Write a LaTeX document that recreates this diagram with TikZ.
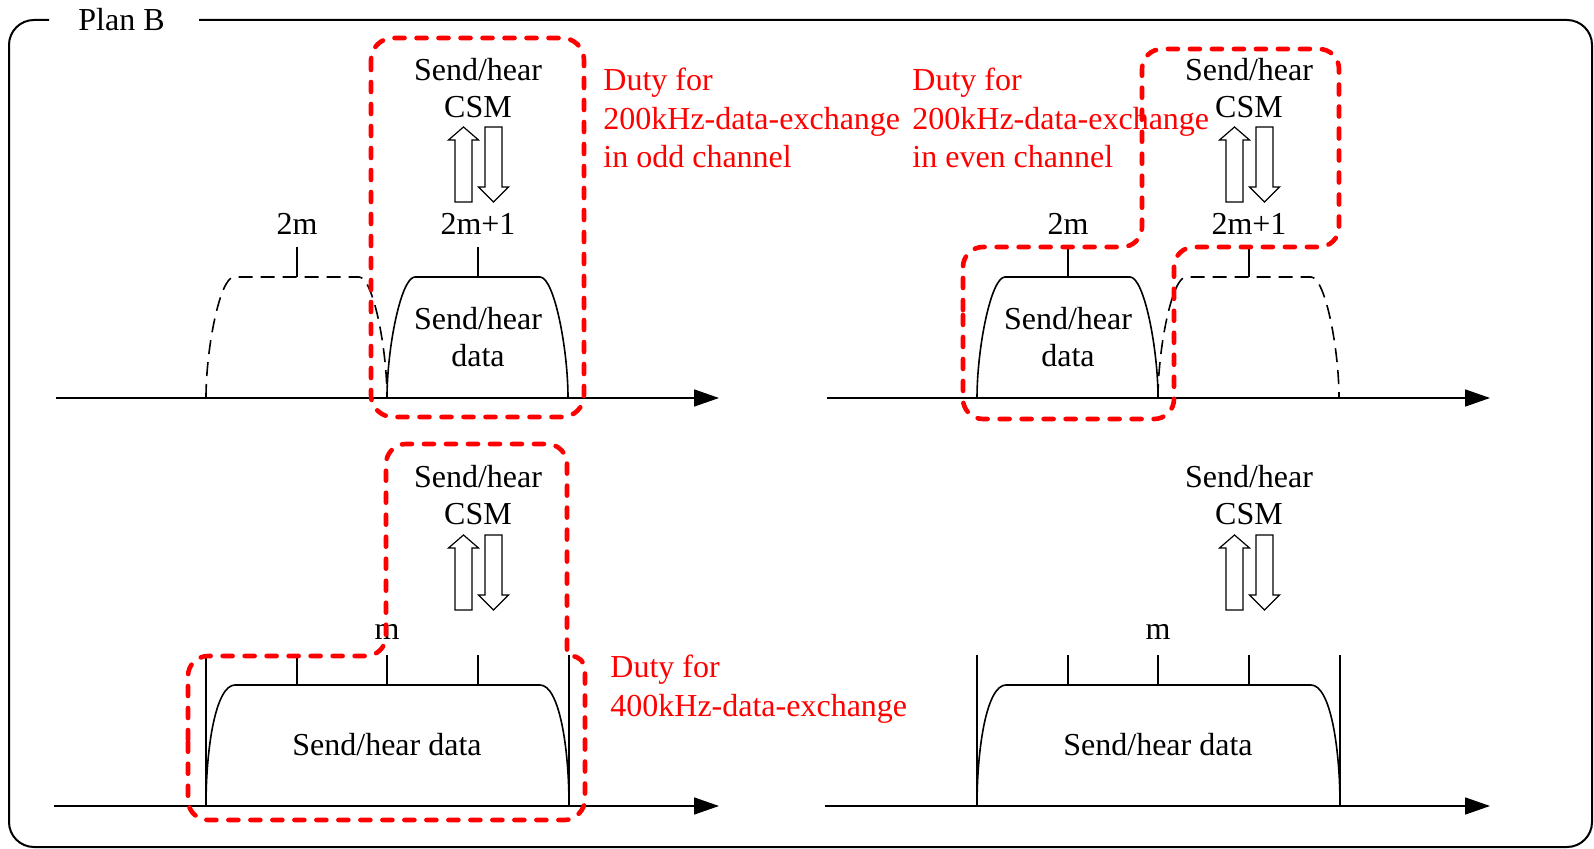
\documentclass[tikz,border=0pt]{standalone}
\usepackage{fontspec}
\setmainfont{Liberation Serif}
\usetikzlibrary{arrows.meta}
\begin{document}
\begin{tikzpicture}[x=0.5pt,y=-0.5pt,
  lbl/.style={font=\fontsize{16}{18.5}\selectfont, inner sep=0pt, align=center},
  redlbl/.style={font=\fontsize{16}{19.2}\selectfont, text=red, inner sep=0pt, align=left, anchor=west},
  ln/.style={line width=0.8pt},
  frameline/.style={line width=1pt},
  dsh/.style={line width=0.8pt, dash pattern=on 7pt off 4pt},
  duty/.style={draw=red, line width=2.3pt, dash pattern=on 5pt off 6pt, line cap=round, line join=round},
  axisline/.style={line width=0.8pt, -{Triangle[length=12.5pt,width=8.5pt]}},
  blk/.style={line width=0.6pt, fill=white},
  csmarrows/.pic={
    \draw[blk] (455,202) -- (455,140) -- (448.5,140) -- (463.5,127) -- (478.5,140) -- (472,140) -- (472,202) -- cycle;
    \draw[blk] (485,127) -- (485,187) -- (478.5,187) -- (493.5,202) -- (508.5,187) -- (502,187) -- (502,127) -- cycle;
  }
]
\useasboundingbox (0,0) rectangle (1594,849);
\fill[white] (0,0) rectangle (1594,849);

% frame
\draw[frameline, rounded corners=12.5pt] (199,20) -- (1592,20) -- (1592,847) -- (9,847) -- (9,20) -- (49,20);
\node[lbl] (title) at (121.5,20) {Plan B};

% ---------- top-left panel ----------
\draw[axisline] (56,398) -- (719,398);
\draw[dsh] (206,398) .. controls (206,348) and (220,277) .. (234,277) -- (359,277) .. controls (373,277) and (387,348) .. (387,398);
\draw[ln] (387,398) .. controls (387,348) and (401,277) .. (415,277) -- (540,277) .. controls (554,277) and (568,348) .. (568,398);
\draw[ln] (297,247) -- (297,277);
\draw[ln] (478,247) -- (478,277);
\node[lbl] (chA1) at (297,224) {2m};
\node[lbl] (chA2) at (478,224) {2m+1};
\node[lbl] (dataA) at (478,337) {Send/hear\\data};
\node[lbl] (csmA) at (478,88) {Send/hear\\CSM};
\pic at (0,0) {csmarrows};
\node[redlbl] (dutyA) at (603,118) {Duty for\\200kHz-data-exchange\\in odd channel};

% ---------- top-right panel ----------
\draw[axisline] (827,398) -- (1490,398);
\draw[ln] (977,398) .. controls (977,348) and (991,277) .. (1005,277) -- (1130,277) .. controls (1144,277) and (1158,348) .. (1158,398);
\draw[dsh] (1158,398) .. controls (1158,348) and (1172,277) .. (1186,277) -- (1311,277) .. controls (1325,277) and (1339,348) .. (1339,398);
\draw[ln] (1068,247) -- (1068,277);
\draw[ln] (1249,247) -- (1249,277);
\node[lbl] (chB1) at (1068,224) {2m};
\node[lbl] (chB2) at (1249,224) {2m+1};
\node[lbl] (dataB) at (1068,337) {Send/hear\\data};
\node[lbl] (csmB) at (1249,88) {Send/hear\\CSM};
\pic at (771,0) {csmarrows};
\node[redlbl] (dutyB) at (912,118) {Duty for\\200kHz-data-exchange\\in even channel};

% ---------- bottom-left panel ----------
\draw[axisline] (54,806) -- (719,806);
\draw[ln] (206,806) .. controls (206,746) and (216,685) .. (235,685) -- (540,685) .. controls (559,685) and (569,746) .. (569,806);
\draw[ln] (206,655) -- (206,806);
\draw[ln] (569,655) -- (569,806);
\draw[ln] (297,655) -- (297,685);
\draw[ln] (387,655) -- (387,685);
\draw[ln] (478,655) -- (478,685);
\node[lbl] (mC) at (387,632) {m};
\node[lbl] (dataC) at (387,745) {Send/hear data};
\node[lbl] (csmC) at (478,495.5) {Send/hear\\CSM};
\pic at (0,408) {csmarrows};
\node[redlbl] (dutyC) at (610,689) {Duty for\\400kHz-data-exchange};

% ---------- bottom-right panel ----------
\draw[axisline] (825,806) -- (1490,806);
\draw[ln] (977,806) .. controls (977,746) and (987,685) .. (1006,685) -- (1311,685) .. controls (1330,685) and (1340,746) .. (1340,806);
\draw[ln] (977,655) -- (977,806);
\draw[ln] (1340,655) -- (1340,806);
\draw[ln] (1068,655) -- (1068,685);
\draw[ln] (1158,655) -- (1158,685);
\draw[ln] (1249,655) -- (1249,685);
\node[lbl] (mD) at (1158,632) {m};
\node[lbl] (dataD) at (1158,745) {Send/hear data};
\node[lbl] (csmD) at (1249,495.5) {Send/hear\\CSM};
\pic at (771,408) {csmarrows};

% ---------- red duty outlines ----------
\draw[duty, rounded corners=11pt] (371,38) rectangle (584,417);
\draw[duty, rounded corners=10pt] (963,330) -- (963,247) -- (1142,247) -- (1142,49) -- (1339,49) -- (1339,247) -- (1174,247) -- (1174,419) -- (963,419) -- cycle;
\draw[duty] (188,740) -- (188,676) .. controls (188,665) and (197,656) .. (208,656)
  -- (366,656) .. controls (377,656) and (386,647) .. (386,636)
  -- (386,464) .. controls (386,453) and (395,444) .. (406,444)
  -- (547,444) .. controls (558,444) and (567,453) .. (567,464)
  -- (567,652) .. controls (567,654) and (569,656) .. (571,656)
  .. controls (579,656) and (585,662) .. (585,670)
  -- (585,800) .. controls (585,809) and (576,820) .. (565,820)
  -- (208,820) .. controls (197,820) and (188,811) .. (188,800) -- cycle;
\end{tikzpicture}
\end{document}
